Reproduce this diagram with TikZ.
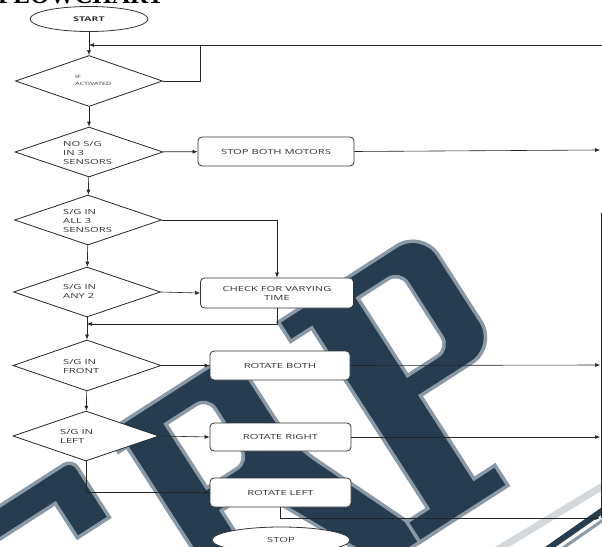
\documentclass[tikz,border=0pt]{standalone}
\usepackage{fontspec}
\newfontfamily\fc[FakeStretch=1.6]{Open Sans}
\newfontfamily\ttl{Liberation Serif}
\usetikzlibrary{shapes.geometric,arrows.meta}
\definecolor{wm}{HTML}{283C4F}
\definecolor{wmedge}{HTML}{8A99A5}
\definecolor{wmlight}{HTML}{D2D8DC}
\begin{document}
\begin{tikzpicture}[x=1pt,y=-1pt,
  txt/.style={font=\fc\fontsize{7}{9}\selectfont, text=black!80, inner sep=0pt},
  dia/.style={diamond, draw=black!85, line width=0.8pt, fill=white, inner sep=0pt, minimum width=147pt, minimum height=50pt},
  box/.style={rectangle, rounded corners=4pt, draw=black!80, line width=0.8pt, fill=white, align=center, txt},
  oval/.style={ellipse, draw=black!80, line width=0.8pt, fill=white, inner sep=0pt, txt},
  lbl/.style={txt, align=left, anchor=west},
  conn/.style={draw=black!85, line width=0.6pt},
  arr/.style={conn, -{Latex[length=5pt,width=4pt]}},
  wmshape/.style={fill=wm, draw=wmedge, line width=3.5pt, even odd rule}
]
\useasboundingbox (0,0) rectangle (602,546);
\fill[white] (0,0) rectangle (602,546);
% ---------- watermark (rotated letters) ----------
\begin{scope}[x={(0.84pt,0.54pt)}, y={(0.54pt,-0.84pt)}]
  % S (top right part)
  \filldraw[wmshape] (-420,426) [rounded corners=10pt] -- (-188,426) [sharp corners] -- (-188,495) -- (-226,495) -- (-226,454) -- (-420,454) -- cycle;
  % R
  \filldraw[wmshape]
    (-145,422) [rounded corners=30pt] -- (5,422) -- (5,530) [sharp corners] -- (65,670) -- (80,670) -- (80,684) -- (-10,684) -- (-10,670) -- (10,670) -- (-50,550) -- (-90,550) -- (-90,660) -- (-70,660) -- (-70,684) -- (-160,684) -- (-160,660) -- (-135,660) -- (-135,445) -- (-145,445) -- cycle
    (-90,447) [rounded corners=14pt] -- (-40,447) -- (-40,523) [sharp corners] -- (-90,523) -- cycle;
  % P
  \filldraw[wmshape]
    (60,422) [rounded corners=30pt] -- (231,422) -- (231,561) [sharp corners] -- (140,561) -- (140,660) -- (165,660) -- (165,684) -- (60,684) -- (60,660) -- (85,660) -- (85,445) -- (60,445) -- cycle
    (140,445) [rounded corners=14pt] -- (190,445) -- (190,537) [sharp corners] -- (140,537) -- cycle;
\end{scope}
% faint letters at bottom right
\draw[wmlight, line width=7pt] (497,550) -- (606,484);
\draw[wm, line width=6pt] (546,550) -- (606,508);
\draw[wmedge, line width=3pt] (560,550) -- (606,518);
% title (cut off)
\node[anchor=base west, inner sep=0pt, font=\ttl\bfseries\fontsize{25}{25}\selectfont] (title) at (-2,4) {FLOWCHART};
% nodes
\node[oval, minimum width=118pt, minimum height=25pt, font=\fc\bfseries\fontsize{6.5}{8}\selectfont] (start) at (89,19) {START};
\node[dia, minimum width=147pt, minimum height=51pt] (d1) at (89,81) {};
\node[dia, minimum width=148pt] (d2) at (89,152) {};
\node[dia] (d3) at (88,220) {};
\node[dia] (d4) at (87,292) {};
\node[dia, minimum width=148pt, minimum height=51pt] (d5) at (87,365.5) {};
\node[dia, minimum width=146pt] (d6) at (86,436) {};
\node[lbl, font=\fc\fontsize{4.5}{7}\selectfont] (t1) at (75,80.5) {IF\\ACTIVATED};
\node[lbl] (t2) at (63,153) {NO S/G\\IN 3\\SENSORS};
\node[lbl] (t3) at (63,220.5) {S/G IN\\ALL 3\\SENSORS};
\node[lbl] (t4) at (63,291.5) {S/G IN\\ANY 2};
\node[lbl] (t5) at (63,366) {S/G IN\\FRONT};
\node[lbl] (t6) at (60,436) {S/G IN\\LEFT};
\node[box, minimum width=156pt, minimum height=29pt] (b1) at (276,151.5) {STOP BOTH MOTORS};
\node[box, minimum width=153pt, minimum height=30pt] (b2) at (277,293) {CHECK FOR VARYING\\TIME};
\node[box, minimum width=140pt, minimum height=29pt] (b3) at (280,365.5) {ROTATE BOTH};
\node[box, minimum width=141pt, minimum height=28pt] (b4) at (280.5,437) {ROTATE RIGHT};
\node[box, minimum width=141pt, minimum height=29pt] (b5) at (280.5,492.5) {ROTATE LEFT};
\node[oval, minimum width=138pt, minimum height=26pt] (stop) at (281,540) {STOP};
% coordinates
\coordinate (fbR) at (602,45);
\coordinate (fbJ) at (200,45);
\coordinate (r1) at (600,150);
\coordinate (r3) at (600,365);
\coordinate (r4) at (600,437);
\coordinate (r5) at (600,518);
\coordinate (rt) at (601,213);
\coordinate (j1) at (87,324);
% connectors
\draw[arr] (start) -- (d1);
\draw[conn] (d1.east) -| (fbJ);
\draw[arr] (fbR) -- (start.south |- fbR);
\draw[arr] (d1) -- (d2);
\draw[arr] (d2) -- (b1);
\draw[arr] (b1.east) -- (r1);
\draw[arr] (d2) -- (d3);
\draw[arr] (d3.east) -| (b2.north);
\draw[arr] (d3) -- (d4);
\draw[arr] (d4.east) -- (b2.west);
\draw[arr] (b2.south) |- (j1);
\draw[arr] (d4) -- (d5);
\draw[arr] (d5.east) -- (b3.west);
\draw[arr] (b3.east) -- (r3);
\draw[arr] (d5) -- (d6);
\draw[arr] (d6.east) -- (b4.west);
\draw[arr] (b4.east) -- (r4);
\draw[arr] (d6.south) |- (b5.west);
\draw[arr] (b5.south) |- (r5);
\draw[conn] (rt) -- (rt |- r5);
\end{tikzpicture}
\end{document}
